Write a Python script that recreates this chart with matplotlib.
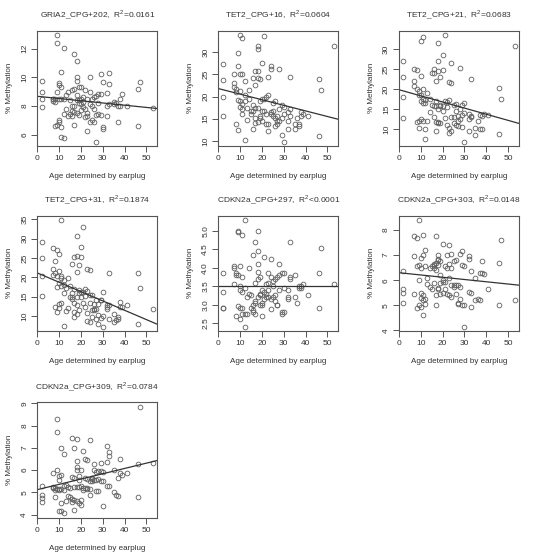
import numpy as np
import matplotlib
matplotlib.use("Agg")
import matplotlib.pyplot as plt
from matplotlib.ticker import MultipleLocator

plt.rcParams['font.family'] = ['Liberation Sans', 'DejaVu Sans']
plt.rcParams['mathtext.fontset'] = 'custom'
plt.rcParams['mathtext.rm'] = 'Liberation Sans'

# age of each sample (shared by all panels)
ages = [2, 2, 2, 2, 7, 7, 7, 8, 8, 8, 9, 9, 9, 9, 10, 10, 10, 10, 10,
        11, 11, 11, 11, 11, 12, 12, 12, 12, 13, 13, 14, 14, 15, 15,
        16, 16, 16, 16, 17, 17, 17, 17, 17, 18, 18, 18, 18, 18, 18,
        19, 19, 19, 19, 20, 20, 20, 20, 21, 21, 21, 22, 22, 22,
        23, 23, 23, 23, 24, 24, 24, 24, 25, 25, 25, 26, 26, 26,
        27, 27, 27, 28, 28, 28, 29, 29, 29, 30, 30, 30, 32, 32, 32,
        33, 33, 33, 35, 35, 36, 37, 37, 38, 38, 39, 41, 46, 46, 47, 53]

gria2_202 = [9.75, 8.95, 8.5, 7.9, 8.45, 8.35, 8.5, 8.5, 6.6, 8.3,
             12.95, 12.4, 9.0, 6.7, 9.6, 9.45, 8.5, 7.05, 6.9,
             10.35, 9.3, 6.5, 5.8, 8.5, 12.05, 8.5, 7.45, 5.75, 8.75, 7.8,
             9.0, 7.3, 8.4, 7.45, 9.1, 7.65, 7.3, 8.0, 11.6, 9.2, 8.0, 7.6, 6.7,
             11.1, 10.05, 9.75, 8.75, 8.4, 7.5, 8.4, 8.2, 7.4, 9.3,
             9.3, 8.5, 8.15, 7.7, 8.6, 8.3, 7.95, 9.1, 7.8, 7.2,
             8.45, 7.5, 7.3, 6.25, 10.05, 9.0, 8.1, 6.9, 8.5, 8.0, 7.0,
             8.6, 7.8, 6.9, 8.7, 7.4, 5.5, 8.8, 7.45, 8.2, 10.2, 8.8, 7.4,
             9.7, 6.5, 6.4, 8.9, 7.3, 8.0, 10.3, 9.5, 8.15, 8.3, 8.1, 8.2,
             6.85, 8.0, 8.5, 8.0, 8.8, 8.0, 9.2, 6.6, 9.65, 7.85]

tet2_16 = [27.3, 23.7, 20.0, 15.6, 25.2, 23.0, 22.2, 21.1, 13.7, 21.8,
           29.8, 27.0, 19.2, 12.4, 33.9, 25.0, 21.3, 19.0, 17.7,
           33.3, 25.0, 18.3, 17.1, 16.0, 23.6, 20.3, 10.3, 19.0, 17.5, 14.6,
           21.4, 19.4, 16.0, 16.8, 24.2, 16.7, 12.6, 18.2, 25.7, 22.7, 17.5, 15.1, 14.1,
           31.4, 30.7, 25.7, 24.2, 17.5, 14.3, 24.0, 19.0, 15.6, 15.2,
           27.5, 19.4, 16.7, 14.4, 33.7, 19.4, 16.7, 19.8, 16.0, 13.7,
           24.3, 20.4, 13.7, 12.2, 27.0, 26.2, 16.4, 16.0, 16.7, 15.6, 18.5,
           19.0, 15.2, 13.3, 14.4, 15.6, 13.7, 26.2, 17.1, 14.4, 15.2, 11.3, 18.0,
           17.7, 16.0, 9.8, 16.4, 14.4, 12.6, 24.3, 17.1, 15.6, 13.7, 12.6, 15.2,
           13.3, 13.8, 16.4, 15.6, 16.0, 15.6, 23.9, 11.0, 21.4, 31.3]

tet2_21 = [27.0, 23.1, 18.0, 12.9, 25.1, 22.1, 20.8, 20.2, 11.8, 24.8,
           18.5, 10.4, 19.7, 12.0, 32.0, 23.4, 18.5, 17.0, 12.7,
           33.0, 20.1, 17.5, 12.2, 16.5, 16.5, 10.1, 7.5, 17.3, 19.0, 12.2,
           17.5, 14.4, 24.0, 16.0, 25.2, 24.0, 15.8, 13.0, 22.2, 17.2, 11.8, 9.6, 15.8,
           31.7, 27.0, 24.5, 15.2, 11.5, 11.8, 23.0, 15.8, 11.5, 16.2,
           28.5, 24.9, 15.8, 14.5, 33.6, 17.0, 12.8, 16.8, 15.5, 11.0,
           21.9, 17.3, 10.3, 9.0, 26.6, 21.6, 13.2, 9.5, 16.2, 13.2, 11.5,
           16.3, 14.5, 11.2, 13.3, 12.2, 10.8, 25.3, 15.0, 12.6, 13.5, 10.6, 16.1,
           16.6, 14.0, 6.9, 13.8, 12.5, 9.5, 22.7, 13.3, 13.0, 10.3, 8.5, 12.0,
           10.0, 13.5, 10.0, 13.3, 13.8, 13.7, 20.4, 8.9, 17.5, 30.9]

tet2_31 = [29.0, 25.0, 20.3, 15.2, 27.5, 22.0, 20.7, 24.3, 21.1, 12.3,
           27.0, 20.2, 11.0, 17.5, 26.0, 21.6, 18.5, 13.2, 12.0,
           34.8, 20.3, 19.8, 17.7, 13.3, 18.0, 16.0, 7.5, 19.3, 17.3, 11.2,
           19.9, 12.0, 17.8, 15.0, 23.3, 14.9, 14.3, 16.0, 25.2, 17.0, 13.3, 11.0, 9.7,
           30.6, 25.4, 21.4, 14.9, 12.7, 10.5, 23.1, 16.8, 11.5, 16.0,
           27.7, 25.2, 16.2, 15.0, 33.1, 16.3, 13.3, 17.0, 15.2, 12.3,
           22.2, 16.4, 10.8, 8.6, 21.8, 15.3, 13.3, 8.3, 15.3, 11.5, 9.8,
           11.5, 11.7, 13.0, 11.8, 14.0, 9.2, 13.0, 10.2, 7.9, 14.2, 14.0, 9.5,
           16.1, 9.9, 7.2, 12.3, 12.8, 11.8, 21.1, 12.9, 9.2, 10.6, 8.5, 9.0,
           9.3, 9.8, 13.6, 12.2, 12.2, 12.8, 21.1, 8.0, 17.1, 11.7]

cdkn2a_297 = [3.85, 3.35, 2.9, 2.92, 4.05, 3.55, 4.0, 3.85, 2.7, 3.8,
              5.0, 4.97, 3.8, 2.95, 4.05, 3.5, 3.4, 2.9, 2.6,
              4.9, 3.75, 3.35, 2.75, 2.9, 5.3, 3.45, 2.4, 2.75, 3.2, 2.75,
              4.0, 3.3, 2.9, 3.25, 4.35, 2.85, 2.8, 3.0, 4.7, 3.6, 3.1, 3.05, 2.75,
              5.0, 4.45, 4.1, 3.9, 3.7, 3.2, 3.75, 3.3, 3.0, 3.25,
              3.4, 3.0, 3.05, 2.7, 4.3, 3.35, 3.15, 3.55, 3.3, 3.2,
              3.85, 3.6, 3.4, 3.2, 4.25, 3.75, 3.15, 2.88, 3.65, 3.5, 3.2,
              3.7, 3.25, 3.1, 3.75, 3.0, 3.0, 4.1, 3.8, 3.4, 3.85, 2.75, 2.8,
              3.85, 3.45, 2.8, 3.4, 3.2, 3.15, 4.7, 3.7, 3.75, 3.8, 3.2, 3.05,
              3.5, 3.45, 3.5, 3.45, 3.55, 3.25, 3.85, 2.92, 4.55, 3.55]

cdkn2a_303 = [6.35, 5.65, 5.5, 5.1, 7.75, 6.95, 5.45, 6.55, 4.9, 7.7,
              8.4, 6.6, 6.0, 5.0, 6.9, 6.5, 5.5, 5.3, 4.95,
              7.8, 7.0, 5.4, 5.2, 4.6, 7.2, 6.55, 5.05, 5.25, 5.85, 6.1,
              6.5, 5.75, 6.55, 5.65, 6.6, 6.5, 5.9, 6.65, 7.75, 6.4, 5.4, 5.0, 6.7,
              7.0, 6.85, 6.8, 6.6, 5.7, 5.65, 6.75, 6.2, 5.45, 5.9,
              7.45, 6.0, 5.95, 5.5, 6.55, 5.95, 5.65, 7.0, 6.5, 5.45,
              7.4, 6.65, 6.1, 5.4, 7.05, 6.5, 5.8, 5.35, 6.75, 5.8, 5.75,
              6.8, 5.8, 5.45, 5.8, 5.1, 5.05, 7.05, 5.75, 5.25, 7.15, 6.6, 5.0,
              6.55, 5.0, 4.15, 6.95, 6.85, 5.55, 6.35, 5.5, 4.95, 6.1, 5.2, 5.25,
              5.2, 6.3, 6.75, 6.3, 6.25, 5.65, 6.7, 5.0, 7.6, 5.2]

cdkn2a_309 = [5.3, 4.9, 4.75, 4.55, 5.85, 5.2, 5.25, 5.1, 4.8, 5.2,
              8.3, 7.7, 6.0, 5.15, 5.75, 5.55, 5.15, 5.1, 4.15,
              7.0, 5.8, 5.15, 4.5, 4.15, 6.7, 5.1, 4.05, 5.3, 5.35, 4.6,
              5.25, 4.85, 5.2, 4.8, 7.45, 5.7, 4.55, 4.7, 7.0, 5.65, 5.25, 4.65, 4.2,
              7.4, 6.4, 6.15, 6.0, 5.25, 4.6, 5.75, 5.55, 5.25, 4.5,
              6.0, 5.3, 4.65, 4.45, 6.85, 5.1, 5.2, 6.5, 5.65, 5.2,
              6.45, 5.6, 5.15, 5.2, 7.35, 5.5, 5.15, 4.9, 5.5, 5.6, 5.65,
              6.25, 6.0, 5.55, 5.9, 5.55, 5.05, 5.95, 5.6, 5.05, 6.3, 5.95, 5.5,
              5.5, 4.4, 5.9, 7.1, 6.35, 5.3, 6.8, 6.65, 5.3, 6.0, 5.0, 4.9,
              4.85, 5.65, 6.5, 5.85, 5.8, 5.85, 6.25, 4.8, 8.85, 6.3]

panel_names = ["GRIA2_CPG+202", "TET2_CPG+16", "TET2_CPG+21", "TET2_CPG+31",
               "CDKN2a_CPG+297", "CDKN2a_CPG+303", "CDKN2a_CPG+309"]
panel_r2 = ["=0.0161", "=0.0604", "=0.0683", "=0.1874", "<0.0001", "=0.0148", "=0.0784"]
panel_values = [gria2_202, tet2_16, tet2_21, tet2_31, cdkn2a_297, cdkn2a_303, cdkn2a_309]
# regression line: intercept, slope
fit_intercept = [8.67, 21.8, 19.9, 21.1, 3.5, 6.3, 5.12]
fit_slope = [-0.0155, -0.126, -0.153, -0.241, 0.0, -0.009, 0.0238]
ytick_step = [2, 5, 5, 5, 0.5, 1, 1]

fig = plt.figure(figsize=(5.38, 5.53), dpi=100)
W, H = 538.0, 553.0
col_left = [37.3, 218.3, 399.0]
row_bottom = [146.0, 331.0, 517.7]
box_w, box_h = 120.0, 115.3

txt = '#333333'
x = np.array(ages, dtype=float)
xr = x.max() - x.min()
xlim = (x.min() - 0.04 * xr, x.max() + 0.04 * xr)

for i, name in enumerate(panel_names):
    r, c = divmod(i, 3)
    ax = fig.add_axes([col_left[c] / W, 1 - row_bottom[r] / H, box_w / W, box_h / H])
    y = np.array(panel_values[i], dtype=float)
    ax.plot(x, y, 'o', mfc='none', mec='#5e5e5e', ms=3.4, mew=0.6)
    yr = y.max() - y.min()
    ax.set_xlim(xlim)
    ax.set_ylim(y.min() - 0.04 * yr, y.max() + 0.04 * yr)
    xs = np.array(xlim)
    ax.plot(xs, fit_intercept[i] + fit_slope[i] * xs, color='#333333', lw=0.9,
            scalex=False, scaley=False)

    ax.xaxis.set_major_locator(MultipleLocator(10))
    ax.yaxis.set_major_locator(MultipleLocator(ytick_step[i]))
    ax.tick_params(direction='out', length=4, width=0.7, color='#555555',
                   labelsize=6, labelcolor=txt, pad=2.5)
    for lab in ax.get_yticklabels():
        lab.set_rotation(90)
        lab.set_va('center')
    for s in ax.spines.values():
        s.set_color('#555555')
        s.set_linewidth(0.8)

    ax.set_title(name + ",  R$^2$" + panel_r2[i], fontsize=6.0, color=txt, pad=9)
    ax.set_xlabel("Age determined by earplug", fontsize=5.8, color=txt, labelpad=8)
    ax.set_ylabel("% Methylation", fontsize=5.8, color=txt, labelpad=6)

fig.savefig("out.png", dpi=100, facecolor='white')
